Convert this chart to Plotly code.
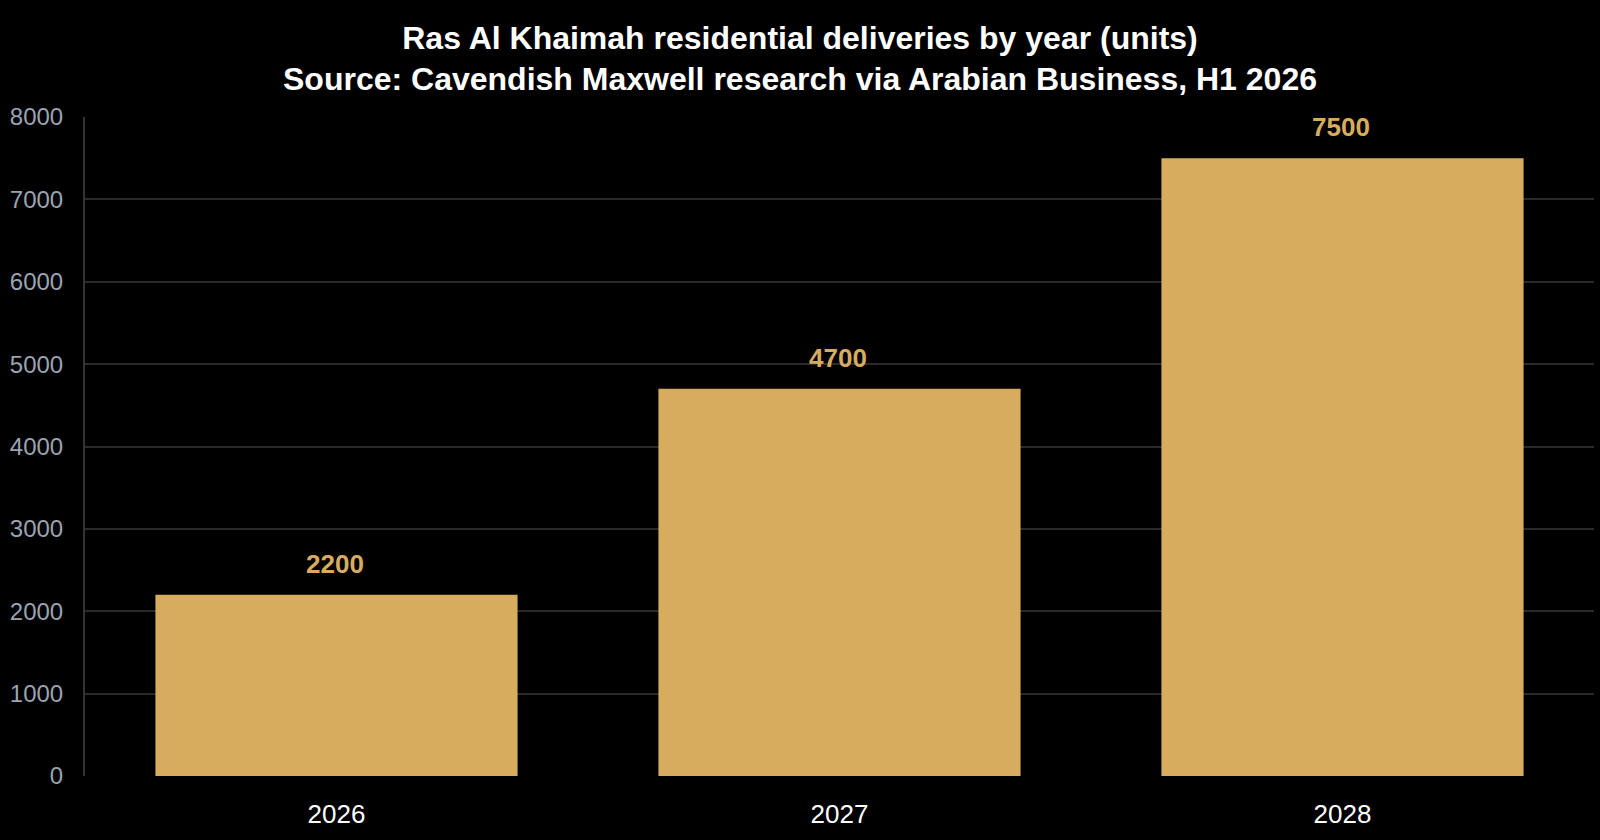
import plotly.graph_objects as go

years = ["2026", "2027", "2028"]
units = [2200, 4700, 7500]

bar_color = "#d8ac5f"

fig = go.Figure(go.Bar(
    x=years,
    y=units,
    marker_color=bar_color,
    marker_line_width=0,
    hoverinfo="x+y",
))

# value labels sit a little above each bar (x given as category index)
for i, u in enumerate(units):
    fig.add_annotation(
        x=i, y=u, text="<b>%d</b>" % u,
        showarrow=False, yanchor="bottom", yshift=14, xshift=-2,
        font=dict(size=26, color=bar_color, family="Liberation Sans, Arial, sans-serif"),
    )

fig.update_layout(
    width=1600, height=840,
    paper_bgcolor="#000000",
    plot_bgcolor="#000000",
    font=dict(family="Liberation Sans, Arial, sans-serif", color="#ffffff"),
    title=dict(
        text="<b>Ras Al Khaimah residential deliveries by year (units)<br>"
             "Source: Cavendish Maxwell research via Arabian Business, H1 2026</b>",
        x=0.5, xanchor="center",
        y=0.942, yanchor="middle",
        font=dict(size=32, color="#ffffff"),
    ),
    margin=dict(l=85, r=6, t=117, b=64),
    bargap=0.28,
    showlegend=False,
)

fig.update_xaxes(
    type="category",
    range=[-0.5, 2.5],
    showgrid=False,
    showline=False,
    tickfont=dict(size=26, color="#ffffff"),
    ticks="",
    ticklabelstandoff=20,
)
fig.update_yaxes(
    range=[0, 8000],
    dtick=1000,
    showgrid=True,
    gridcolor="#2a2a2a",
    gridwidth=1.5,
    showline=True,
    linecolor="#333333",
    linewidth=2,
    zeroline=False,
    tickfont=dict(size=24, color="#9aa4b1"),
    ticks="",
    ticklabelstandoff=15,
)

fig.write_html(
    "out.html",
    config={"displayModeBar": False},
    post_script="document.body.style.margin='0';document.body.style.background='#000';",
)
